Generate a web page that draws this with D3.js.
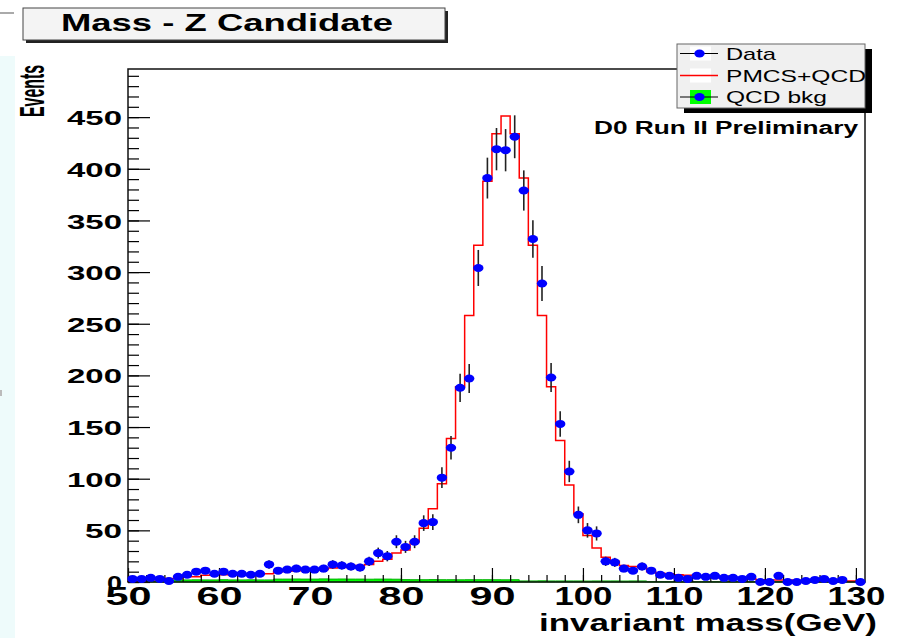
<!DOCTYPE html>
<html>
<head>
<meta charset="utf-8">
<title>Mass - Z Candidate</title>
<script src="https://d3js.org/d3.v7.min.js"></script>
<style>
    body { margin: 0; background: #fff; }
    svg text { font-family: "Liberation Sans", Arial, Helvetica, sans-serif; fill: #000; }
    .axis text { font-weight: bold; }
    .axis line { stroke: #000; stroke-width: 1.2; }
    .axis path { display: none; }
</style>
</head>
<body>
<div id="chart"></div>
<script>

// 1 GeV bins, low edges 50 ... 130
var massBins = [50, 51, 52, 53, 54, 55, 56, 57, 58, 59,
                60, 61, 62, 63, 64, 65, 66, 67, 68, 69,
                70, 71, 72, 73, 74, 75, 76, 77, 78, 79,
                80, 81, 82, 83, 84, 85, 86, 87, 88, 89,
                90, 91, 92, 93, 94, 95, 96, 97, 98, 99,
                100, 101, 102, 103, 104, 105, 106, 107, 108, 109,
                110, 111, 112, 113, 114, 115, 116, 117, 118, 119,
                120, 121, 122, 123, 124, 125, 126, 127, 128, 129,
                130];

// Data (null = no marker drawn)
var dataCounts = [3, 3, 4, 3, 1, 5, 7, 10, 11, 8,
                  10, 8, 8, 7, 8, 17, 11, 12, 13, 12,
                  12, 13, 17, 16, 15, 14, 20, 28, 25, 39,
                  34, 39, 57, 58, 101, 130, 188, 197, 304, 391,
                  419, 418, 431, 379, 332, 289, 198, 153, 107, 65,
                  50, 47, 20, 19, 13, 11, 15, 11, 7, 6,
                  4, 3, 6, 5, 6, 4, 4, 3, 5, 0,
                  0, 6, 0, 0, 1, 2, 3, 1, 2, null,
                  0];

// PMCS+QCD
var mcCounts = [0.5, 0.5, 2, 2, 3.5, 3.5, 5, 5, 6.5, 7,
                7, 7.5, 7.5, 7.5, 8, 8, 10, 10.5, 11, 11,
                11.5, 12, 13.5, 14, 14, 16, 17, 20, 22, 28,
                31, 39, 52, 71, 95, 139, 189, 258, 326, 388,
                434, 451, 434, 391, 326, 258, 189, 137, 94, 66,
                45, 33, 24, 20, 16, 15, 14, 10, 8.5, 8,
                7, 6.5, 5.5, 5, 4, 3.8, 3.6, 3.5, 3.3, 2.2,
                2, 2, 2, 1.8, 1.8, 1.6, 1.2, 1.1, 1, 0.9,
                0.8];

// QCD bkg
var qcdCounts = [0.3, 0.3, 0.4, 0.3, 0.4, 2, 2, 2.1, 2, 2,
                 2.2, 2, 2, 2.1, 2, 2, 2.8, 2.8, 2.9, 2.8,
                 2.8, 3, 2.8, 2.9, 2.8, 2.8, 2.7, 2.8, 2.8, 2.7,
                 2.3, 2.2, 2.2, 2.3, 2.2, 2.2, 2.1, 2.2, 2.2, 2.2,
                 2.2, 2.1, 2.2, 1, 1, 1.1, 1, 1, 1, 1,
                 0.9, 1, 1, 1, 0.9, 1, 1, 0.3, 0.3, 0.3,
                 0.3, 0.3, 0.3, 0.3, 0.3, 0.3, 0.3, 0.3, 0.3, 0.3,
                 0.3, 0.3, 0.3, 0.3, 0.3, 0.3, 0.3, 0.3, 0.3, 0.3,
                 0.3];

var xTicks = [50, 60, 70, 80, 90, 100, 110, 120, 130];
var yTicks = [0, 50, 100, 150, 200, 250, 300, 350, 400, 450];

var legendLabels = ["Data", "PMCS+QCD", "QCD bkg"];

var W = 897, H = 638;
var frame = {left: 128, right: 865, top: 69, bottom: 582};

var svg = d3.select("#chart").append("svg")
    .attr("width", W)
    .attr("height", H);

// screenshot leftovers at the left edge
svg.append("rect").attr("x", 0).attr("y", 56).attr("width", 15).attr("height", H - 56)
    .attr("fill", "#eefbfb");
svg.append("line").attr("x1", 0).attr("x2", 14).attr("y1", 13).attr("y2", 13)
    .attr("stroke", "#aaa").attr("stroke-width", 2);
svg.append("rect").attr("x", 0).attr("y", 390).attr("width", 2).attr("height", 6)
    .attr("fill", "#bbb");

var x = d3.scaleLinear().domain([50, 131]).range([frame.left, frame.right]);
var y = d3.scaleLinear().domain([0, 496.6]).range([frame.bottom, frame.top]);

// ---- histograms ----
var last = massBins.length - 1;
var mcPts = massBins.map(function(m, i) { return [m, mcCounts[i]]; });
mcPts.unshift([massBins[0], 0]);
mcPts.push([massBins[last] + 1, mcCounts[last]]);

var qcdPts = massBins.map(function(m, i) { return [m, qcdCounts[i]]; });
qcdPts.push([massBins[last] + 1, qcdCounts[last]]);

svg.append("path")
    .datum(qcdPts)
    .attr("fill", "#00ff00")
    .attr("stroke", "#00b000")
    .attr("stroke-width", 1)
    .attr("d", d3.area().curve(d3.curveStepAfter)
        .x(function(d) { return x(d[0]); })
        .y0(y(0))
        .y1(function(d) { return y(d[1]); }));

svg.append("path")
    .datum(mcPts)
    .attr("fill", "none")
    .attr("stroke", "#ff0000")
    .attr("stroke-width", 1.5)
    .attr("d", d3.line().curve(d3.curveStepAfter)
        .x(function(d) { return x(d[0]); })
        .y(function(d) { return y(d[1]); }));

// ---- axes ----
function stretchLabels(sel, widths) {
    sel.selectAll("text").attr("textLength", function(d) {
        return widths[String(d).length];
    }).attr("lengthAdjust", "spacingAndGlyphs");
}

var yMinor = [];
for (var v = 0; v <= 490; v += 10) yMinor.push(v);
var xMinor = [];
for (var m = 50; m <= 130; m += 2) xMinor.push(m);

svg.append("g").attr("class", "axis")
    .attr("transform", "translate(" + frame.left + ",0)")
    .call(d3.axisLeft(y).tickValues(yMinor).tickSize(-11).tickFormat(""));

var yAxis = svg.append("g").attr("class", "axis")
    .attr("transform", "translate(" + frame.left + ",0)")
    .call(d3.axisLeft(y).tickValues(yTicks).tickSize(-22).tickPadding(6));
yAxis.selectAll("text").style("font-size", "21px").attr("dy", "0.36em");
stretchLabels(yAxis, {1: 15, 2: 37, 3: 55});

svg.append("g").attr("class", "axis")
    .attr("transform", "translate(0," + frame.bottom + ")")
    .call(d3.axisBottom(x).tickValues(xMinor).tickSize(-7).tickFormat(""));

var xAxis = svg.append("g").attr("class", "axis")
    .attr("transform", "translate(0," + frame.bottom + ")")
    .call(d3.axisBottom(x).tickValues(xTicks).tickSize(-14).tickPadding(5));
xAxis.selectAll("text").style("font-size", "25px");
stretchLabels(xAxis, {2: 46, 3: 58});

// frame
svg.append("rect")
    .attr("x", frame.left).attr("y", frame.top)
    .attr("width", frame.right - frame.left)
    .attr("height", frame.bottom - frame.top)
    .attr("fill", "none")
    .attr("stroke", "#111")
    .attr("stroke-width", 1.5);

// ---- data points ----
var pts = massBins.map(function(m, i) { return {m: m + 0.5, n: dataCounts[i]}; })
    .filter(function(d) { return d.n !== null; });

svg.append("g").selectAll("line")
    .data(pts.filter(function(d) { return d.n > 0; }))
    .enter().append("line")
    .attr("x1", function(d) { return x(d.m); })
    .attr("x2", function(d) { return x(d.m); })
    .attr("y1", function(d) { return y(d.n - Math.sqrt(d.n)); })
    .attr("y2", function(d) { return y(d.n + Math.sqrt(d.n)); })
    .attr("stroke", "#222")
    .attr("stroke-width", 1.6);

svg.append("g").selectAll("ellipse")
    .data(pts)
    .enter().append("ellipse")
    .attr("cx", function(d) { return x(d.m); })
    .attr("cy", function(d) { return y(d.n); })
    .attr("rx", 5.2)
    .attr("ry", 4)
    .attr("fill", "#0000ff");

// ---- texts ----
svg.append("text")
    .attr("x", 858).attr("y", 134)
    .attr("text-anchor", "end")
    .attr("font-weight", "bold")
    .attr("font-size", "18px")
    .attr("textLength", 264).attr("lengthAdjust", "spacingAndGlyphs")
    .text("D0 Run II Preliminary");

svg.append("text")
    .attr("x", 877).attr("y", 631)
    .attr("text-anchor", "end")
    .attr("font-weight", "bold")
    .attr("font-size", "24px")
    .attr("textLength", 338).attr("lengthAdjust", "spacingAndGlyphs")
    .text("invariant mass(GeV)");

svg.append("text")
    .attr("transform", "translate(44,65) scale(1.95,1) rotate(-90)")
    .attr("text-anchor", "end")
    .attr("font-weight", "bold")
    .attr("font-size", "18px")
    .attr("textLength", 52).attr("lengthAdjust", "spacingAndGlyphs")
    .text("Events");

// title box
svg.append("rect").attr("x", 26).attr("y", 11).attr("width", 422).attr("height", 32)
    .attr("fill", "#222");
svg.append("rect").attr("x", 23).attr("y", 8).attr("width", 422).attr("height", 32)
    .attr("fill", "#f4f4f4").attr("stroke", "#444").attr("stroke-width", 1);
svg.append("text")
    .attr("x", 227).attr("y", 31)
    .attr("text-anchor", "middle")
    .attr("font-weight", "bold")
    .attr("font-size", "24px")
    .attr("textLength", 332).attr("lengthAdjust", "spacingAndGlyphs")
    .text("Mass - Z Candidate");

// ---- legend ----
var leg = {x: 677, y: 44, w: 188, h: 64};
svg.append("rect").attr("x", leg.x + 7).attr("y", leg.y + 5).attr("width", leg.w).attr("height", leg.h)
    .attr("fill", "#000");
svg.append("rect").attr("x", leg.x).attr("y", leg.y).attr("width", leg.w).attr("height", leg.h)
    .attr("fill", "#f0f0f0").attr("stroke", "#666").attr("stroke-width", 1);

var rowY = [53.5, 75.5, 97];
var textW = [50, 140, 101];
legendLabels.forEach(function(lab, i) {
    var cy = rowY[i];
    svg.append("rect").attr("x", 690).attr("y", cy - 7).attr("width", 21).attr("height", 14)
        .attr("fill", i === 2 ? "#00ff00" : "#fff");
    svg.append("line").attr("x1", 680).attr("x2", 718).attr("y1", cy).attr("y2", cy)
        .attr("stroke", i === 1 ? "#ff0000" : "#000").attr("stroke-width", i === 1 ? 1.6 : 1.2);
    if (i !== 1) {
        svg.append("ellipse").attr("cx", 699.5).attr("cy", cy).attr("rx", 5.2).attr("ry", 4)
            .attr("fill", "#0000ff");
    }
    svg.append("text")
        .attr("x", 726).attr("y", cy + 6)
        .attr("font-size", "17px")
        .attr("textLength", textW[i]).attr("lengthAdjust", "spacingAndGlyphs")
        .text(lab);
});

</script>
</body>
</html>
